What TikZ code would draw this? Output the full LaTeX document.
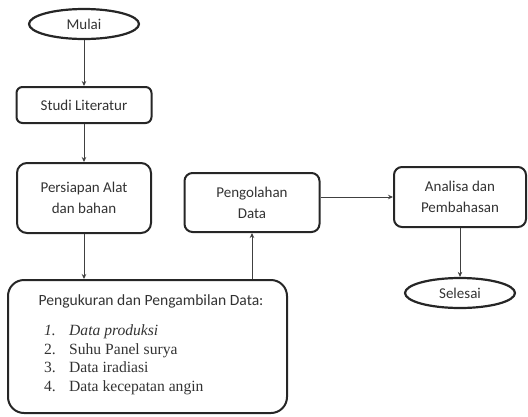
\documentclass[tikz,border=0pt]{standalone}
\usepackage{fontspec}
\setmainfont{Carlito}
\newfontfamily\itemfont{Liberation Serif}
\usetikzlibrary{shapes.geometric,arrows.meta}
\begin{document}
\begin{tikzpicture}[x=1pt,y=-1pt,
  every node/.style={text=black!80, font=\fontsize{15}{21}\selectfont},
  box/.style={draw=black!85, line width=2pt, rounded corners=#1, inner sep=0pt, align=center},
  box/.default=8pt,
  term/.style={ellipse, draw=black!85, line width=2.2pt, minimum width=110pt, minimum height=30pt, inner sep=0pt},
  flow/.style={draw=black!75, line width=0.9pt, -{Stealth[length=5pt,width=4.5pt]}},
  itemtxt/.style={anchor=base west, inner sep=0pt, font=\itemfont\fontsize{15.6}{18}\selectfont}
]
\useasboundingbox (0,0) rectangle (528,416);

\node[term] (mulai) at (84,24) {Mulai};
\node[box=6pt, minimum width=135pt, minimum height=36pt] (studi) at (84,105) {Studi Literatur};
\node[box=10pt, minimum width=134pt, minimum height=70pt] (persiapan) at (84,198) {Persiapan Alat\\dan bahan};
\node[box=16pt, minimum width=279pt, minimum height=133pt] (data) at (147.5,346.5) {};
\node[anchor=base, inner sep=0pt, font=\fontsize{15.6}{18}\selectfont] (judul) at (151,305) {Pengukuran dan Pengambilan Data:};
\node[itemtxt] (n1) at (44,335.5) {\itshape 1.};
\node[itemtxt] (t1) at (69,335.5) {\itshape Data produksi};
\node[itemtxt] (n2) at (44,354) {2.};
\node[itemtxt] (t2) at (69,354) {Suhu Panel surya};
\node[itemtxt] (n3) at (44,372.5) {3.};
\node[itemtxt] (t3) at (69,372.5) {Data iradiasi};
\node[itemtxt] (n4) at (44,391) {4.};
\node[itemtxt] (t4) at (69,391) {Data kecepatan angin};

\node[box=8pt, minimum width=135pt, minimum height=59pt] (olah) at (252,202.5) {Pengolahan\\Data};
\node[box=8pt, minimum width=132pt, minimum height=60pt] (analisa) at (460,197) {Analisa dan\\Pembahasan};
\node[term] (selesai) at (460,293) {Selesai};

\draw[flow] (mulai) -- (studi);
\draw[flow] (studi) -- (persiapan);
\draw[flow] (persiapan.south) -- (persiapan.south |- data.north);
\draw[flow] (data.north -| olah.south) -- (olah.south);
\draw[flow] (olah.east |- analisa.west) -- (analisa.west);
\draw[flow] (analisa) -- (selesai);
\end{tikzpicture}
\end{document}
